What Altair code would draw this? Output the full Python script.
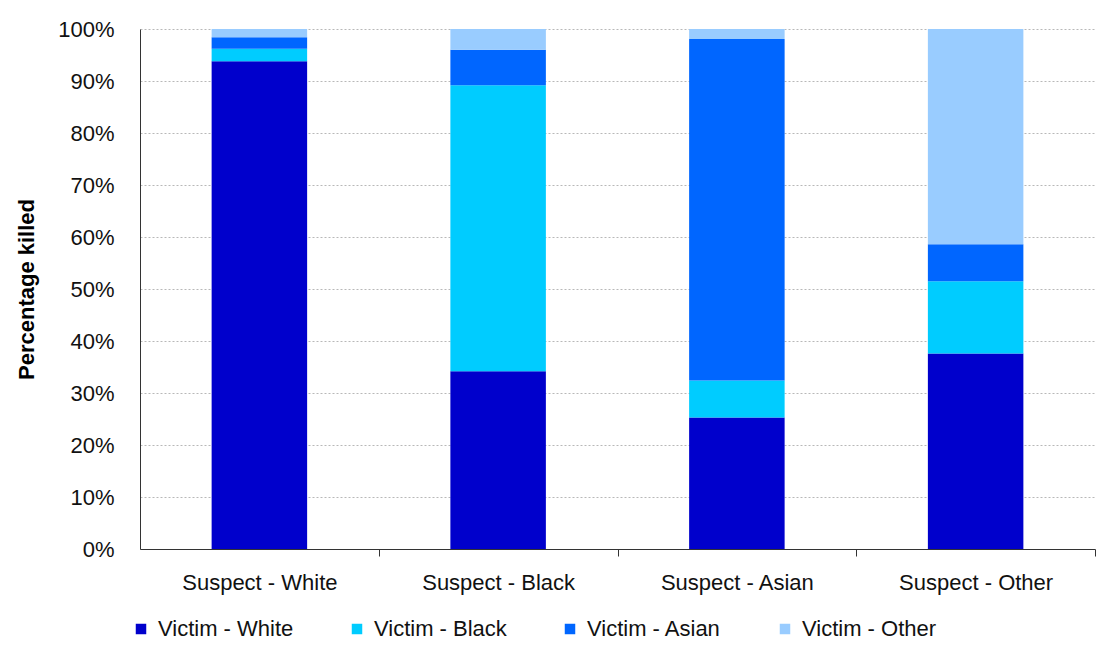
import altair as alt
import pandas as pd

suspects = ["Suspect - White", "Suspect - Black", "Suspect - Asian", "Suspect - Other"]
victims = ["Victim - White", "Victim - Black", "Victim - Asian", "Victim - Other"]
victim_white = [93.8, 34.2, 25.3, 37.6]
victim_black = [2.4, 55.0, 7.1, 13.9]
victim_asian = [2.2, 6.8, 65.7, 7.1]
victim_other = [1.6, 4.0, 1.9, 41.4]
colors = ["#0000CC", "#00CCFF", "#0066FF", "#99CCFF"]

series = [victim_white, victim_black, victim_asian, victim_other]
rows = []
for vi, (v, vals) in enumerate(zip(victims, series)):
    for s, val in zip(suspects, vals):
        rows.append({"suspect": s, "victim": v, "value": val, "order": vi})
df = pd.DataFrame(rows)

FONT = "Liberation Sans"
W = 955
HALF_STEP = W / 4 / 2

chart = alt.Chart(df).mark_bar().encode(
    x=alt.X("suspect:N", sort=suspects,
            scale=alt.Scale(paddingInner=0.6, paddingOuter=0.3),
            axis=alt.Axis(title=None, labelAngle=0, labelFontSize=22, labelFont=FONT,
                          labelColor="#111", labelPadding=16,
                          tickOffset=HALF_STEP, labelOffset=-HALF_STEP,
                          tickSize=7, tickColor="#333", domainColor="#333",
                          grid=False)),
    y=alt.Y("value:Q", stack="zero",
            scale=alt.Scale(domain=[0, 100], nice=False),
            axis=alt.Axis(title="Percentage killed", titleFont=FONT, titleFontSize=22,
                          titleFontWeight="bold", titleColor="#000", titlePadding=19,
                          values=list(range(0, 101, 10)),
                          labelExpr="datum.value + '%'", labelFont=FONT, labelFontSize=22,
                          labelColor="#111", labelPadding=26, ticks=False,
                          domainColor="#333", gridColor="#b8b8b8", gridDash=[2, 2])),
    color=alt.Color("victim:N", sort=victims,
                    scale=alt.Scale(domain=victims, range=colors),
                    legend=alt.Legend(title=None, orient="none", direction="horizontal",
                                      legendX=-10, legendY=589, symbolType="square",
                                      symbolSize=110, symbolStrokeWidth=0,
                                      labelFont=FONT, labelFontSize=22, labelColor="#111",
                                      columnPadding=52, labelOffset=6)),
    order=alt.Order("order:Q", sort="ascending"),
).properties(
    width=W, height=520,
    padding={"left": 7, "top": 10, "right": 0, "bottom": 0},
).configure_view(stroke=None)

chart.save("out.html", embed_options={"renderer": "svg", "actions": False})
